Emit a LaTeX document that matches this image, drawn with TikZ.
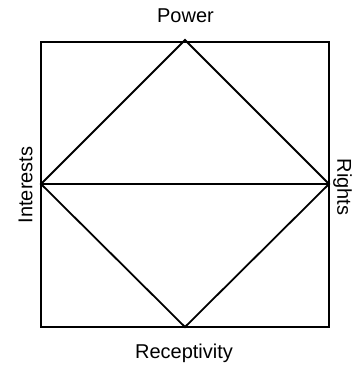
\documentclass[tikz,border=0pt]{standalone}
\usepackage{fontspec}
\setmainfont{Liberation Sans}
\usepackage{tikz}
\usetikzlibrary{calc}

\begin{document}
\begin{tikzpicture}[x=1pt,y=-1pt,
        frame/.style={line width=1.8pt,line join=miter},
        lbl/.style={font=\fontsize{20}{24}\selectfont,inner sep=0pt}]
    \useasboundingbox (0,0) rectangle (355,365);
    % --- outer square ---
    \draw[frame] (41,42) rectangle (329,327);
    % --- diamond corners ---
    \coordinate (power) at (185,40);
    \coordinate (interests) at (41,184);
    \coordinate (rights) at (329,184);
    \coordinate (receptivity) at (185,327);
    \draw[frame] (power) -- (rights) -- (receptivity) -- (interests) -- cycle;
    \draw[frame] (interests) -- (rights);
    % --- labels ---
    \node[lbl] (powerlbl) at (185.5,16) {Power};
    \node[lbl] (receptlbl) at (184,353.5) {Receptivity};
    \node[lbl,rotate=90] (interestslbl) at (25.5,185) {Interests};
    \node[lbl,rotate=-90] (rightslbl) at (342.5,187) {Rights};
\end{tikzpicture}
\end{document}
